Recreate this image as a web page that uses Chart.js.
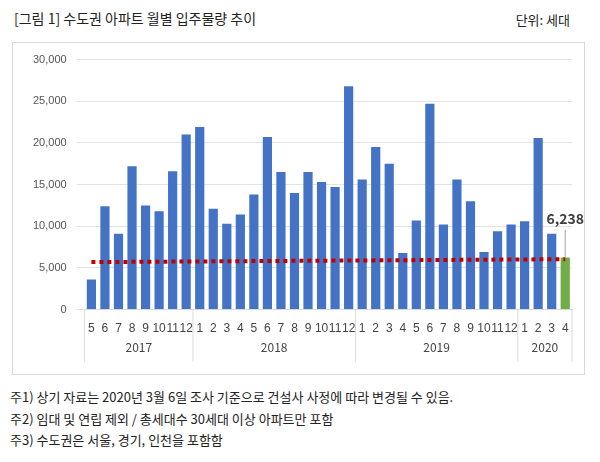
<!DOCTYPE html>
<html><head><meta charset="utf-8">
<script src="https://cdn.jsdelivr.net/npm/chart.js@4"></script>
<style>
body{margin:0;background:#fff;font-family:"Malgun Gothic","Noto Sans CJK KR",sans-serif;width:600px;height:462px;position:relative;overflow:hidden}
#t{position:absolute;left:14px;top:8px;font-size:14px;color:#222}
#u{position:absolute;right:30px;top:10px;font-size:13px;color:#222}
#box{position:absolute;left:12px;top:42px;width:573px;height:333px;border:1px solid #d9d9d9;box-sizing:border-box}
#c{position:absolute;left:0;top:0}
#notes{position:absolute;left:10px;top:386px;font-size:13px;color:#222;line-height:21.5px}
</style></head><body>
<div id="t">[그림 1] 수도권 아파트 월별 입주물량 추이</div>
<div id="u">단위: 세대</div>
<div id="box"><canvas id="c" width="571" height="331"></canvas></div>
<div id="notes">주1) 상기 자료는 2020년 3월 6일 조사 기준으로 건설사 사정에 따라 변경될 수 있음.<br>주2) 임대 및 연립 제외 / 총세대수 30세대 이상 아파트만 포함<br>주3) 수도권은 서울, 경기, 인천을 포함함</div>
<script>
const months=["5","6","7","8","9","10","11","12","1","2","3","4","5","6","7","8","9","10","11","12","1","2","3","4","5","6","7","8","9","10","11","12","1","2","3","4"];
const years=[["2017",8],["2018",12],["2019",12],["2020",4]];
const supply=[3600,12400,9100,17200,12500,11800,16600,21000,21900,12100,10300,11400,13800,20700,16500,14000,16500,15300,14700,26800,15600,19500,17500,6800,10700,24700,10200,15600,13000,6900,9400,10200,10600,20600,9100,6238];
const avgLine=[5700,5710,5720,5730,5740,5750,5760,5770,5780,5790,5800,5810,5820,5830,5840,5850,5860,5870,5880,5890,5900,5910,5920,5930,5940,5950,5960,5970,5980,5990,6000,6010,6020,6030,6040,6050];
const colors=supply.map((v,i)=>i===supply.length-1?'#70ad47':'#4472c4');
const yearPlugin={id:'yr',afterDraw(ch){
 const c=ch.ctx,x=ch.scales.x,a=ch.chartArea;
 const step=x.getPixelForValue(1)-x.getPixelForValue(0);
 c.save();c.strokeStyle='#d9d9d9';c.lineWidth=1;c.fillStyle='#444';c.font='12px "Malgun Gothic","Noto Sans CJK KR",sans-serif';c.textAlign='center';
 let i=0;
 const edge=k=>x.getPixelForValue(k)-step/2;
 c.beginPath();c.moveTo(edge(0),a.bottom);c.lineTo(edge(0),a.bottom+52);c.stroke();
 years.forEach(([y,n])=>{const l=edge(i),r=edge(i+n);c.beginPath();c.moveTo(r,a.bottom);c.lineTo(r,a.bottom+52);c.stroke();c.fillText(y,(l+r)/2,a.bottom+42);i+=n;});
 const last=supply.length-1,px=x.getPixelForValue(last),py=ch.scales.y.getPixelForValue(supply[last]);
 c.strokeStyle='#a6a6a6';c.beginPath();c.moveTo(px,py);c.lineTo(px,py-28);c.stroke();
 c.fillStyle='#404040';c.font='bold 14px "Malgun Gothic","Noto Sans CJK KR",sans-serif';c.fillText(supply[last].toLocaleString('en-US'),px,py-34);
 c.restore();}};
new Chart(document.getElementById('c'),{
 data:{labels:months,datasets:[
  {type:'line',data:avgLine,borderColor:'#c00000',borderWidth:4,borderDash:[4,4],pointRadius:0,fill:false,order:0},
  {type:'bar',data:supply,backgroundColor:colors,categoryPercentage:1,barPercentage:0.68,order:1}]},
 options:{responsive:false,animation:false,devicePixelRatio:1,
  layout:{padding:{left:10,right:12,top:6,bottom:34}},
  plugins:{legend:{display:false},tooltip:{enabled:false}},
  scales:{
   x:{grid:{display:false},border:{color:'#d9d9d9'},ticks:{color:'#444',font:{size:12},maxRotation:0,autoSkip:false,padding:4}},
   y:{min:0,max:30000,ticks:{stepSize:5000,color:'#555',font:{size:11},padding:10,callback:v=>v.toLocaleString('en-US')},grid:{color:'#e3e3e3'},border:{display:false}}}},
 plugins:[yearPlugin]});
</script>
</body></html>
